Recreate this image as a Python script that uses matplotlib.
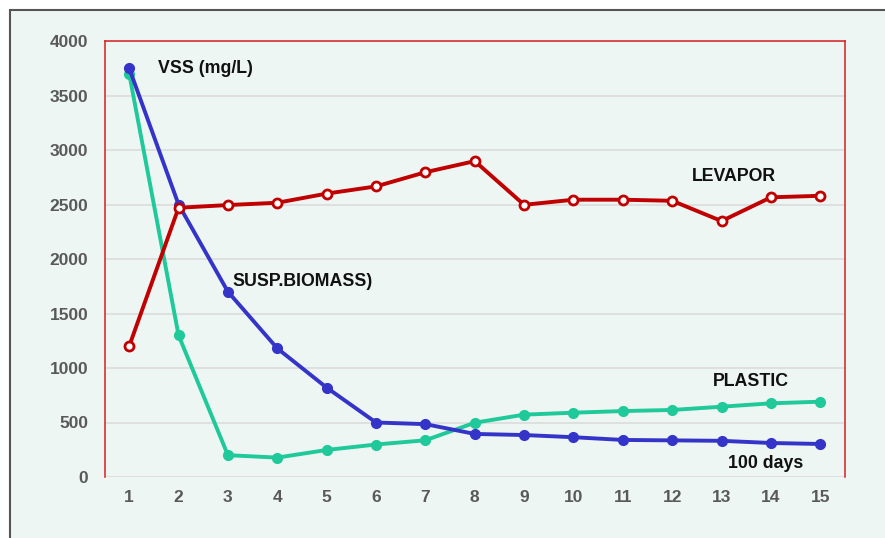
import matplotlib.pyplot as plt
from matplotlib.patches import Rectangle

# Данные
days = list(range(1, 16))
susp_biomass = [3750, 2500, 1700, 1180, 820, 500, 485, 395, 385, 365, 340, 336, 332, 312, 303]
plastic = [3700, 1300, 200, 178, 248, 298, 337, 498, 572, 590, 605, 615, 645, 676, 691]
levapor = [1200, 2470, 2495, 2516, 2600, 2666, 2796, 2898, 2497, 2544, 2544, 2534, 2348, 2566, 2580]
yticks = [0, 500, 1000, 1500, 2000, 2500, 3000, 3500, 4000]

plt.rcParams['font.family'] = ['Liberation Sans', 'DejaVu Sans']

fig = plt.figure(figsize=(8.85, 5.38), dpi=100)
fig.patch.set_facecolor('white')

# фоновая панель (под осями)
panel = Rectangle((10 / 885, -0.05), 1.1, (528 / 538) + 0.05, transform=fig.transFigure,
                  facecolor='#edf6f2', edgecolor='#555555', linewidth=1.5, zorder=-10)
fig.patches.append(panel)

ax = fig.add_axes([105 / 885, 61 / 538, 740 / 885, 436 / 538])
ax.set_facecolor('#edf6f2')

ax.plot(days, plastic, color='#1fc99a', lw=2.8, marker='o', ms=7, zorder=3)
ax.plot(days, susp_biomass, color='#3434c8', lw=2.8, marker='o', ms=7, zorder=4)
ax.plot(days, levapor, color='#c00000', lw=2.8, marker='o', ms=6.5,
        mfc='white', mec='#c00000', mew=2, zorder=5)

ax.set_xlim(0.51, 15.5)
ax.set_ylim(0, 4000)
ax.set_xticks(days)
ax.set_yticks(yticks)
ax.grid(axis='y', color='#dcdcdc', lw=1.2)
ax.set_axisbelow(True)
ax.tick_params(length=0, labelsize=12.5, labelcolor='#595959')
ax.tick_params(axis='y', pad=12)
ax.tick_params(axis='x', pad=9)
for lab in ax.get_xticklabels() + ax.get_yticklabels():
    lab.set_fontweight('bold')

for side in ['left', 'top', 'right']:
    ax.spines[side].set_color('#d42020')
    ax.spines[side].set_linewidth(1.1)
ax.spines['bottom'].set_visible(False)

kw = dict(fontsize=12.8, fontweight='bold', color='#111111', va='center', ha='left')
ax.text(1.59, 3745, 'VSS (mg/L)', **kw)
ax.text(3.09, 1790, 'SUSP.BIOMASS)', **kw)
ax.text(12.39, 2753, 'LEVAPOR', **kw)
ax.text(12.83, 880, 'PLASTIC', **kw)
ax.text(13.14, 126, '100 days', **kw)

fig.savefig('out.png', dpi=100, facecolor=fig.get_facecolor())
